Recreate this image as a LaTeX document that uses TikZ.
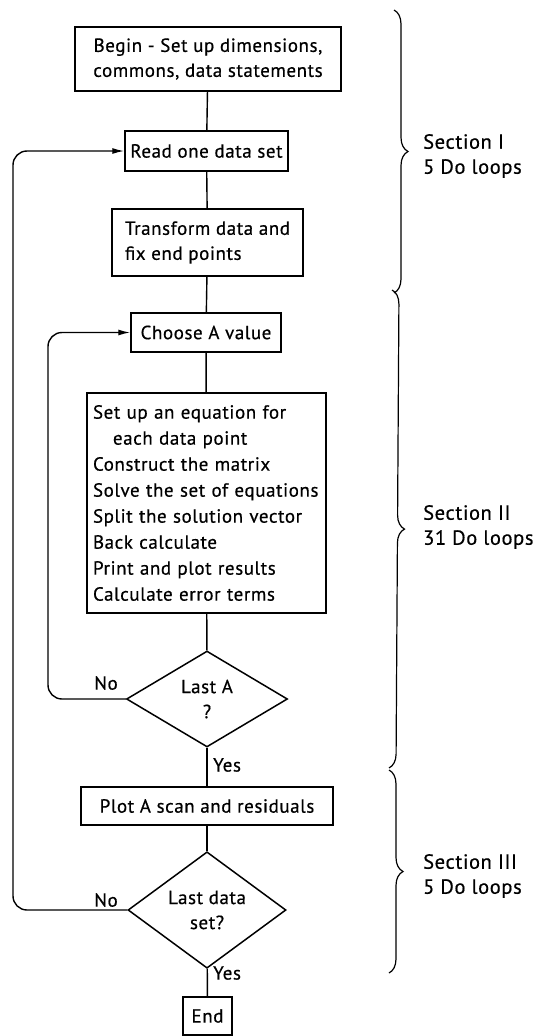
\documentclass[tikz,border=0pt]{standalone}
\usepackage{fontspec}
\setmainfont{PT Sans}[LetterSpace=3,FakeBold=0.5]
\usetikzlibrary{shapes.geometric,arrows.meta,decorations.pathreplacing}

\begin{document}
\begin{tikzpicture}[x=1pt,y=-1pt,
  every node/.style={font=\fontsize{19}{25}\selectfont},
  box/.style={draw,line width=1.5pt,rectangle,inner sep=0pt,align=center},
  decision/.style={draw,line width=1.5pt,diamond,inner sep=0pt,align=center},
  flow/.style={line width=1.4pt},
  loopback/.style={line width=1.4pt,rounded corners=14pt,-{Latex[length=12pt,width=6pt]}},
  lbl/.style={inner sep=0pt,anchor=west},
  sect/.style={inner sep=0pt,anchor=west,align=left,font=\fontsize{20.5}{25}\selectfont},
  sbrace/.style={line width=1.2pt,decorate,decoration={brace,amplitude=14pt,aspect=0.5}}]
\useasboundingbox (0,0) rectangle (551,1036);

% main column
\node[box,minimum width=266pt,minimum height=64pt] (begin) at (208,59)
  {Begin - Set up dimensions,\\commons, data statements};
\node[box,minimum width=163pt,minimum height=40pt] (read) at (206.5,151)
  {Read one data set};
\node[box,minimum width=191pt,minimum height=67pt,align=left] (trans) at (207.5,242.5)
  {Transform data and\\fix end points};
\node[box,minimum width=150pt,minimum height=39pt] (choose) at (206,332.5)
  {Choose A value};
\node[box,text width=227pt,inner xsep=6pt,minimum height=220pt,align=left,
  font=\fontsize{19}{26}\selectfont] (solve) at (206.5,503)
  {Set up an equation for\\
   \hspace*{20pt}each data point\\
   Construct the matrix\\
   Solve the set of equations\\
   Split the solution vector\\
   Back calculate\\
   Print and plot results\\
   Calculate error terms};
\node[decision,minimum width=161pt,minimum height=96pt] (lastA) at (207,699)
  {Last A\\?};
\node[box,minimum width=252pt,minimum height=38pt] (plot) at (207,806)
  {Plot A scan and residuals};
\node[decision,minimum width=158pt,minimum height=95pt] (lastD) at (207,910)
  {Last data\\set?};
\node[box,minimum width=49pt,minimum height=38pt] (end) at (207.5,1016)
  {End};

% straight connectors
\draw[flow] (begin) -- (read);
\draw[flow] (read) -- (trans);
\draw[flow] (trans) -- (choose);
\draw[flow] (choose) -- (solve);
\draw[flow] (solve) -- (lastA);
\draw[flow] (lastA) -- (plot);
\draw[flow] (plot) -- (lastD);
\draw[flow] (lastD) -- (end);

% loop-back connectors
\coordinate (innerL) at (48,0);
\coordinate (outerL) at (13,0);
\draw[loopback] (lastA.west) -- (lastA.west -| innerL) -- (choose.west -| innerL) -- (choose.west);
\draw[loopback] (lastD.west) -- (lastD.west -| outerL) -- (read.west -| outerL) -- (read.west);

% branch labels
\node[lbl] (yesA) at (213,765) {Yes};
\node[lbl] (yesD) at (213,973) {Yes};
\node[lbl] (noA) at (94,683) {No};
\node[lbl] (noD) at (94,900) {No};

% section braces
\coordinate (b1t) at (394,10);
\coordinate (b1b) at (394,293);
\coordinate (b2t) at (392,290);
\coordinate (b2b) at (389,768);
\coordinate (b3t) at (389,770);
\coordinate (b3b) at (389,973);
\draw[sbrace] (b1t) -- (b1b);
\draw[sbrace] (b2t) -- (b2b);
\draw[sbrace] (b3t) -- (b3b);

\node[sect] (s1) at (423,156) {Section I\\5 Do loops};
\node[sect] (s2) at (423,527) {Section II\\31 Do loops};
\node[sect] (s3) at (423,876) {Section III\\5 Do loops};
\end{tikzpicture}
\end{document}
